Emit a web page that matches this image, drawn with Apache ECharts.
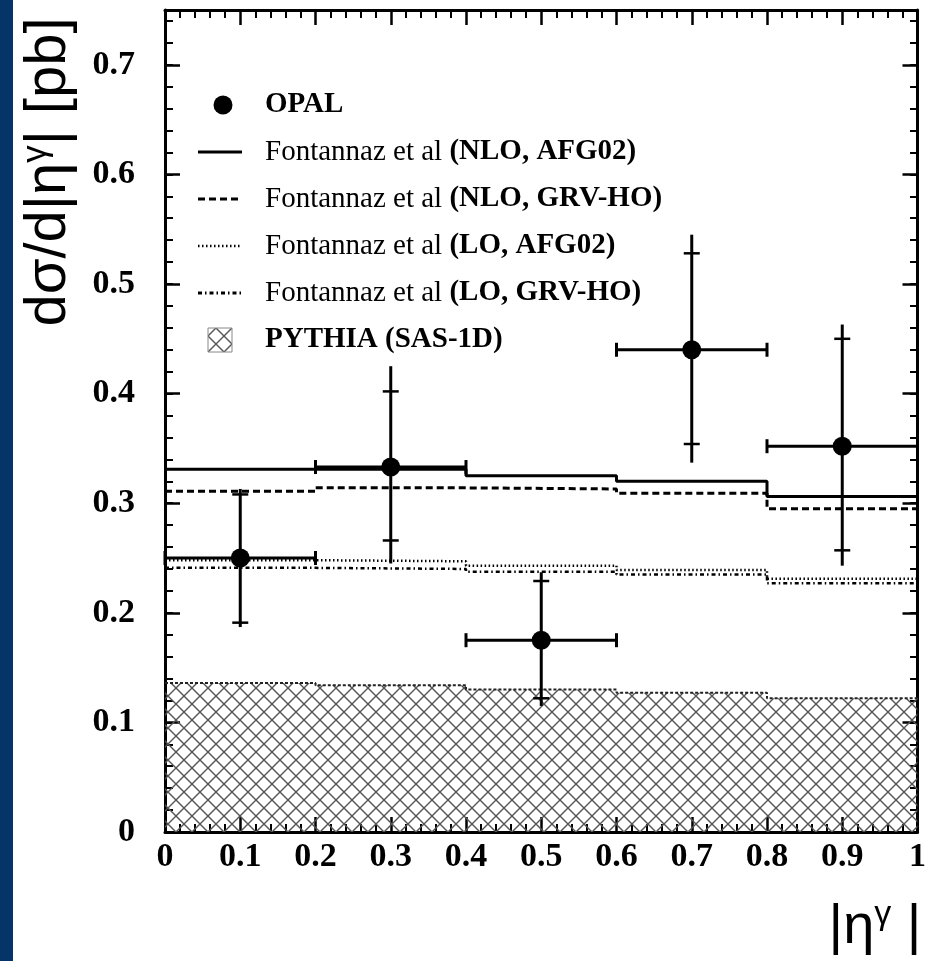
<!DOCTYPE html>
<html>
<head>
<meta charset="utf-8">
<title>OPAL isolated photons |eta|</title>
<script src="https://cdn.jsdelivr.net/npm/echarts@6/dist/echarts.min.js"></script>
<style>
  html, body { margin: 0; padding: 0; background: #fff; }
  #chart { width: 929px; height: 961px; }
</style>
</head>
<body>
<div id="chart"></div>
<script>
// bins in |eta^gamma|
const binEdges = [0, 0.2, 0.4, 0.6, 0.8, 1.0]
const etaCentres = [0.1, 0.3, 0.5, 0.7, 0.9]

// OPAL data points (pb) with inner (stat) and outer (total) error ends
const opalXsec = [0.250, 0.333, 0.175, 0.440, 0.352]
const statLow = [0.191, 0.266, 0.122, 0.354, 0.257]
const statHigh = [0.308, 0.402, 0.229, 0.528, 0.450]
const totalLow = [0.187, 0.245, 0.115, 0.337, 0.243]
const totalHigh = [0.313, 0.425, 0.237, 0.545, 0.463]

// theory predictions per bin
const nloAfg02 = [0.331, 0.331, 0.325, 0.320, 0.306]
const nloGrvHo = [0.311, 0.314, 0.313, 0.309, 0.295]
const loAfg02 = [0.248, 0.247, 0.243, 0.239, 0.231]
const loGrvHo = [0.241, 0.240, 0.2375, 0.235, 0.227]
const pythiaSas1d = [0.136, 0.134, 0.130, 0.127, 0.122]

const legendNames = [
  ['', 'OPAL'],
  ['Fontannaz et al ', '(NLO, AFG02)'],
  ['Fontannaz et al ', '(NLO, GRV-HO)'],
  ['Fontannaz et al ', '(LO, AFG02)'],
  ['Fontannaz et al ', '(LO, GRV-HO)'],
  ['', 'PYTHIA (SAS-1D)']
]
const yTicks = [0, 0.1, 0.2, 0.3, 0.4, 0.5, 0.6, 0.7]

const serif = '"Liberation Serif", "DejaVu Serif", serif'
const sans = '"Liberation Sans", Arial, sans-serif'

// histogram -> step points (last value repeated at right edge)
const toSteps = vals => binEdges.map((e, i) => [e, vals[Math.min(i, vals.length - 1)]])

// cross-hatch tile for the PYTHIA band
const hatchTile = (size, color) => {
  const c = document.createElement('canvas')
  c.width = size
  c.height = size
  const ctx = c.getContext('2d')
  ctx.strokeStyle = color
  ctx.lineWidth = 1.4
  ctx.beginPath()
  ctx.moveTo(0, 0); ctx.lineTo(size, size)
  ctx.moveTo(size, 0); ctx.lineTo(0, size)
  ctx.moveTo(-4, size - 4); ctx.lineTo(4, size + 4)
  ctx.moveTo(size - 4, -4); ctx.lineTo(size + 4, 4)
  ctx.moveTo(-4, 4); ctx.lineTo(4, -4)
  ctx.moveTo(size - 4, size + 4); ctx.lineTo(size + 4, size - 4)
  ctx.stroke()
  return c
}
const hatch = { image: hatchTile(16, '#555'), repeat: 'repeat' }

const chart = echarts.init(document.getElementById('chart'))

const gridBox = { left: 165, right: 11, top: 10, bottom: 129 }

const frameLine = { show: true, onZero: false, lineStyle: { color: '#000', width: 3 } }

// grid 0: frame, labels, major ticks (x also gets its minor ticks here)
const xBase = (pos, labels) => ({
  type: 'value', gridIndex: 0, min: 0, max: 1, interval: 0.1, position: pos, offset: 0,
  axisLine: frameLine,
  splitLine: { show: false },
  axisTick: { show: true, inside: true, length: 15, lineStyle: { color: '#000', width: 2.5 } },
  minorTick: { show: true, splitNumber: 5, length: 8, lineStyle: { color: '#000', width: 2 } },
  axisLabel: {
    show: labels, color: '#000', fontFamily: serif, fontWeight: 'bold', fontSize: 34, margin: 8
  }
})

const yMajor = (pos, labels) => ({
  type: 'value', gridIndex: 0, min: 0, max: 0.75, interval: 0.1, position: pos, offset: 0,
  axisLine: frameLine,
  splitLine: { show: false },
  axisTick: { show: true, inside: true, length: 15, lineStyle: { color: '#000', width: 2.5 } },
  axisLabel: {
    show: labels, showMaxLabel: false, color: '#000', fontFamily: serif, fontWeight: 'bold',
    fontSize: 34, margin: 30,
    formatter: v => (yTicks.some(t => Math.abs(t - v) < 1e-6) ? String(+v.toFixed(1)) : '')
  }
})

// grid 1 (same box): only the 0.02 minor ticks of the y axes
const yMinor = pos => ({
  type: 'value', gridIndex: 1, min: 0, max: 0.75, interval: 0.02, position: pos, offset: 0,
  axisLine: { show: false, onZero: false },
  splitLine: { show: false },
  axisTick: { show: true, inside: true, length: 8, lineStyle: { color: '#000', width: 2 } },
  axisLabel: { show: false }
})

const stepLine = (name, vals, lineStyle) => ({
  name, type: 'line', step: 'end', data: toSteps(vals),
  symbol: 'none', z: 3, lineStyle: { color: '#000', ...lineStyle }
})

// error bars: data row = [x, y, xlo, xhi, statLo, statHi, totLo, totHi]
const errorRows = etaCentres.map((x, i) => [
  x, opalXsec[i], binEdges[i], binEdges[i + 1], statLow[i], statHigh[i], totalLow[i], totalHigh[i]
])

const renderErrorBar = (params, api) => {
  const y = api.value(1)
  const x = api.value(0)
  const l = api.coord([api.value(2), y])
  const r = api.coord([api.value(3), y])
  const sLo = api.coord([x, api.value(4)])
  const sHi = api.coord([x, api.value(5)])
  const tLo = api.coord([x, api.value(6)])
  const tHi = api.coord([x, api.value(7)])
  const seg = (x1, y1, x2, y2, w) => ({
    type: 'line', shape: { x1, y1, x2, y2 }, style: { stroke: '#000', lineWidth: w || 3 }
  })
  return {
    type: 'group',
    children: [
      seg(l[0], l[1], r[0], r[1]),
      seg(l[0], l[1] - 7, l[0], l[1] + 7),
      seg(r[0], r[1] - 7, r[0], r[1] + 7),
      seg(tLo[0], tLo[1], tHi[0], tHi[1]),
      seg(sLo[0] - 8, sLo[1], sLo[0] + 8, sLo[1], 2.5),
      seg(sHi[0] - 8, sHi[1], sHi[0] + 8, sHi[1], 2.5)
    ]
  }
}

// legend drawn as graphics
const legendX = 198
const legendTextX = 265
const legendY = [105, 152, 199, 246, 293, 340]
const legendDash = [null, null, [7, 4], [1.5, 2.5], [4, 3, 1.5, 3]]
const legendGraphic = []
legendNames.forEach((pair, i) => {
  const y = legendY[i]
  if (i === 0) {
    legendGraphic.push({ type: 'circle', shape: { cx: 223, cy: y, r: 9.5 }, style: { fill: '#000' } })
  } else if (i === 5) {
    legendGraphic.push({
      type: 'rect', shape: { x: 208, y: y - 12, width: 24, height: 24 },
      style: { fill: hatch, stroke: '#888', lineWidth: 1 }
    })
  } else {
    legendGraphic.push({
      type: 'line', shape: { x1: legendX, y1: y, x2: legendX + 44, y2: y },
      style: { stroke: '#000', lineWidth: i === 3 ? 2.5 : 3, lineDash: legendDash[i] }
    })
  }
  legendGraphic.push({
    type: 'text', x: legendTextX, y,
    style: {
      text: (pair[0] ? '{r|' + pair[0] + '}' : '') + '{b|' + pair[1] + '}',
      verticalAlign: 'middle', align: 'left',
      rich: {
        r: { fontFamily: serif, fontSize: 29, fontWeight: 'normal', fill: '#000' },
        b: { fontFamily: serif, fontSize: 29, fontWeight: 'bold', fill: '#000' }
      }
    }
  })
})

const option = {
  animation: false,
  backgroundColor: '#fff',
  grid: [{ ...gridBox }, { ...gridBox }],
  xAxis: [
    xBase('bottom', true),
    xBase('top', false),
    { type: 'value', gridIndex: 1, min: 0, max: 1, show: false }
  ],
  yAxis: [yMajor('left', true), yMajor('right', false), yMinor('left'), yMinor('right')],
  series: [
    {
      name: 'PYTHIA (SAS-1D)', type: 'line', step: 'end', data: toSteps(pythiaSas1d),
      symbol: 'none', z: 1,
      lineStyle: { color: '#222', width: 2, type: [3, 2] },
      areaStyle: { color: hatch, opacity: 1 }
    },
    stepLine('Fontannaz et al (NLO, AFG02)', nloAfg02, { width: 3, type: 'solid' }),
    stepLine('Fontannaz et al (NLO, GRV-HO)', nloGrvHo, { width: 3, type: [7, 4] }),
    stepLine('Fontannaz et al (LO, AFG02)', loAfg02, { width: 2.5, type: [1.5, 2.5] }),
    stepLine('Fontannaz et al (LO, GRV-HO)', loGrvHo, { width: 2.5, type: [4, 3, 1.5, 3] }),
    {
      name: 'OPAL errors', type: 'custom', renderItem: renderErrorBar, data: errorRows,
      encode: { x: 0, y: 1 }, z: 4
    },
    {
      name: 'OPAL', type: 'scatter', data: etaCentres.map((x, i) => [x, opalXsec[i]]),
      symbol: 'circle', symbolSize: 19, itemStyle: { color: '#000', opacity: 1 }, z: 5
    }
  ],
  graphic: [
    // dark blue strip on the left edge
    { type: 'rect', shape: { x: 0, y: 0, width: 13, height: 961 }, style: { fill: '#053468' }, z: 0 },
    // y axis title
    {
      type: 'text', x: 49, y: 172, rotation: Math.PI / 2,
      style: {
        text: '{n|dσ/d|η}{s|γ}{n|| [pb]}',
        align: 'center', verticalAlign: 'middle',
        rich: {
          n: { fontFamily: sans, fontSize: 58, fill: '#000' },
          s: { fontFamily: sans, fontSize: 35, fill: '#000', padding: [0, 0, 26, 0] }
        }
      }
    },
    // x axis title
    {
      type: 'text', x: 875, y: 928,
      style: {
        text: '{n||η}{s|γ}{n| |}',
        align: 'center', verticalAlign: 'middle',
        rich: {
          n: { fontFamily: sans, fontSize: 56, fill: '#000' },
          s: { fontFamily: sans, fontSize: 34, fill: '#000', padding: [0, 0, 26, 0] }
        }
      }
    },
    ...legendGraphic
  ]
}

chart.setOption(option)
window.addEventListener('resize', () => chart.resize())
</script>
</body>
</html>
